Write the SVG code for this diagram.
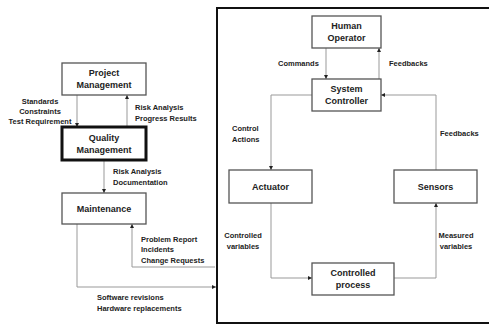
<svg xmlns="http://www.w3.org/2000/svg" width="489" height="325" viewBox="0 0 489 325">
<defs>
<marker id="ah" viewBox="0 0 6 6" refX="6" refY="3" markerWidth="4" markerHeight="4" orient="auto" markerUnits="userSpaceOnUse">
<path d="M0,0 L6,3 L0,6 z" fill="#222"/>
</marker>
<style>
.box{fill:#fff;stroke:#555;stroke-width:1.3}
.thick{fill:#fff;stroke:#111;stroke-width:3}
.frame{fill:none;stroke:#111;stroke-width:2}
.c{fill:none;stroke:#999;stroke-width:1;marker-end:url(#ah)}
.cn{fill:none;stroke:#999;stroke-width:1}
.t{font-family:"Liberation Sans",Arial,sans-serif;font-weight:bold;font-size:9px;fill:#222;text-anchor:middle}
.l{font-family:"Liberation Sans",Arial,sans-serif;font-weight:bold;font-size:7.5px;fill:#222}
.m{text-anchor:middle}
</style>
</defs>
<rect class="frame" x="217" y="8" width="280" height="315"/>
<g id="connectors">
<path class="c" d="M77,95 V127"/>
<path class="c" d="M127,127 V95"/>
<path class="c" d="M104,160 V193"/>
<path class="c" d="M215,267 H132 V224"/>
<path class="c" d="M77,224 V287 H216"/>
<path class="c" d="M326,48 V79"/>
<path class="c" d="M379,79 V48"/>
<path class="c" d="M312,95 H271 V170"/>
<path class="c" d="M436,170 V95 H381"/>
<path class="c" d="M271,203 V278 H312"/>
<path class="c" d="M394,278 H436 V203"/>
</g>
<g id="labels">
<text class="l m" x="40" y="104">Standards</text>
<text class="l m" x="40" y="114">Constraints</text>
<text class="l m" x="40" y="124">Test Requirement</text>
<text class="l" x="135" y="110">Risk Analysis</text>
<text class="l" x="135" y="121">Progress Results</text>
<text class="l" x="113" y="174">Risk Analysis</text>
<text class="l" x="113" y="185">Documentation</text>
<text class="l" x="141" y="242">Problem Report</text>
<text class="l" x="141" y="252">Incidents</text>
<text class="l" x="141" y="263">Change Requests</text>
<text class="l" x="97" y="300">Software revisions</text>
<text class="l" x="97" y="311">Hardware replacements</text>
<text class="l" x="278" y="66">Commands</text>
<text class="l" x="389" y="66">Feedbacks</text>
<text class="l" x="232" y="131">Control</text>
<text class="l" x="232" y="142">Actions</text>
<text class="l" x="440" y="136">Feedbacks</text>
<text class="l m" x="243" y="238">Controlled</text>
<text class="l m" x="243" y="249">variables</text>
<text class="l m" x="456" y="238">Measured</text>
<text class="l m" x="456" y="249">variables</text>
</g>
<g id="project"><rect class="box" x="62" y="63" width="84" height="32"/><text class="t" x="104" y="76">Project</text><text class="t" x="104" y="88">Management</text></g>
<g id="quality"><rect class="thick" x="62" y="127" width="84" height="33"/><text class="t" x="104" y="141">Quality</text><text class="t" x="104" y="153">Management</text></g>
<g id="maintenance"><rect class="box" x="62" y="193" width="84" height="31"/><text class="t" x="104" y="212">Maintenance</text></g>
<g id="human"><rect class="box" x="312" y="16" width="69" height="32"/><text class="t" x="346.5" y="29">Human</text><text class="t" x="346.5" y="41">Operator</text></g>
<g id="controller"><rect class="box" x="312" y="79" width="69" height="32"/><text class="t" x="346.5" y="92">System</text><text class="t" x="346.5" y="104">Controller</text></g>
<g id="actuator"><rect class="box" x="229" y="170" width="83" height="33"/><text class="t" x="270.5" y="190">Actuator</text></g>
<g id="sensors"><rect class="box" x="394" y="170" width="83" height="33"/><text class="t" x="435.5" y="190">Sensors</text></g>
<g id="process"><rect class="box" x="312" y="263" width="82" height="32"/><text class="t" x="353" y="276">Controlled</text><text class="t" x="353" y="288">process</text></g>
</svg>
